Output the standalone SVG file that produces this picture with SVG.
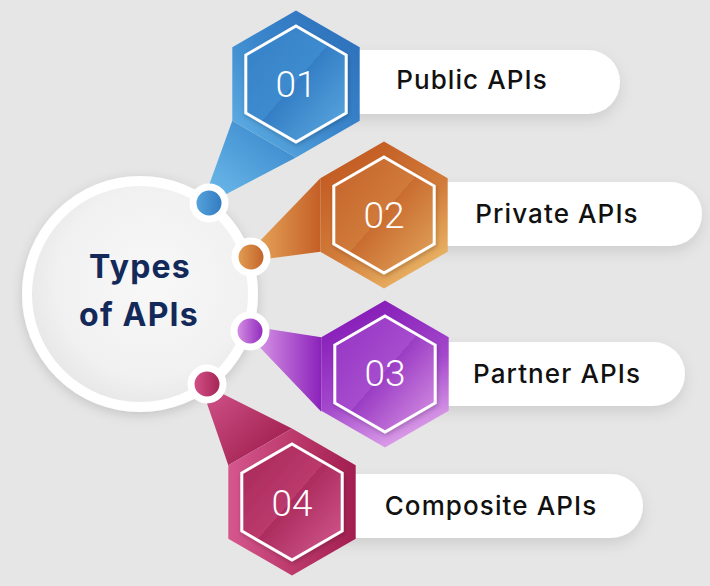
<svg xmlns="http://www.w3.org/2000/svg" width="710" height="586" viewBox="0 0 710 586">
<style>
.label{font-family:Inter,"Open Sans","DejaVu Sans",sans-serif;font-weight:500;font-size:26px;fill:#111111;text-anchor:middle;letter-spacing:1.1px}
.num{font-family:Roboto,"Liberation Sans",sans-serif;font-weight:300;font-size:37px;fill:#ffffff;text-anchor:middle}
.title{font-family:Inter,"Liberation Sans",sans-serif;font-weight:700;font-size:32px;fill:#13295a;text-anchor:middle;letter-spacing:1.2px}
.inner{stroke:#ffffff;stroke-width:3}
.pill{fill:#ffffff}
</style>
<defs>
<polygon id="hexO" points="0,-73.5 63.7,-36.75 63.7,36.75 0,73.5 -63.7,36.75 -63.7,-36.75"/>
<polygon id="hexI" points="0,-58 50.2,-29 50.2,29 0,58 -50.2,29 -50.2,-29"/>
<filter id="sh" x="-20%" y="-30%" width="140%" height="170%"><feDropShadow dx="0" dy="6" stdDeviation="7" flood-color="#000" flood-opacity="0.10"/></filter>
<filter id="shc" x="-20%" y="-20%" width="140%" height="140%"><feDropShadow dx="0" dy="3" stdDeviation="6" flood-color="#000" flood-opacity="0.15"/></filter>
<filter id="shi" x="-20%" y="-20%" width="140%" height="140%"><feDropShadow dx="1" dy="2" stdDeviation="2" flood-color="#000" flood-opacity="0.2"/></filter>
<radialGradient id="circ" cx="0.55" cy="0.45" r="0.6"><stop offset="0" stop-color="#f8f8f8"/><stop offset="0.7" stop-color="#f1f1f1"/><stop offset="1" stop-color="#e4e4e4"/></radialGradient>
<linearGradient id="bO" x1="1" y1="0" x2="0" y2="1"><stop offset="0" stop-color="#2a6cb7"/><stop offset="0.5" stop-color="#3a86cc"/><stop offset="1" stop-color="#64b4e6"/></linearGradient>
<linearGradient id="bI" x1="0" y1="0" x2="1" y2="1"><stop offset="0" stop-color="#3680c6"/><stop offset="0.49" stop-color="#3d8bcf"/><stop offset="0.49" stop-color="#347ec5"/><stop offset="1" stop-color="#5eabe1"/></linearGradient>
<linearGradient id="bF" gradientUnits="userSpaceOnUse" x1="212" y1="200" x2="270" y2="125"><stop offset="0" stop-color="#6cbae9"/><stop offset="1" stop-color="#3d8bce"/></linearGradient>
<linearGradient id="bD" x1="0" y1="0" x2="1" y2="0"><stop offset="0" stop-color="#5aa8de"/><stop offset="1" stop-color="#2e76bf"/></linearGradient>
<linearGradient id="oO" x1="0.2" y1="0" x2="0.8" y2="1"><stop offset="0" stop-color="#c0561f"/><stop offset="0.55" stop-color="#d27c3a"/><stop offset="1" stop-color="#edbd6c"/></linearGradient>
<linearGradient id="oI" x1="0" y1="0" x2="1" y2="1"><stop offset="0" stop-color="#c4622a"/><stop offset="0.49" stop-color="#d07a3a"/><stop offset="0.49" stop-color="#c96c30"/><stop offset="1" stop-color="#e3a85e"/></linearGradient>
<linearGradient id="oF" gradientUnits="userSpaceOnUse" x1="255" y1="0" x2="320" y2="0"><stop offset="0" stop-color="#e6a65a"/><stop offset="1" stop-color="#c45f27"/></linearGradient>
<linearGradient id="oD" x1="0" y1="0" x2="1" y2="0"><stop offset="0" stop-color="#e6a458"/><stop offset="1" stop-color="#bf5d26"/></linearGradient>
<linearGradient id="pO" x1="0.3" y1="0" x2="0.7" y2="1"><stop offset="0" stop-color="#8318b6"/><stop offset="0.55" stop-color="#a448cc"/><stop offset="1" stop-color="#e3aaec"/></linearGradient>
<linearGradient id="pI" x1="0" y1="0" x2="1" y2="1"><stop offset="0" stop-color="#9432c2"/><stop offset="0.49" stop-color="#a64cce"/><stop offset="0.49" stop-color="#9a3cc4"/><stop offset="1" stop-color="#dc98e6"/></linearGradient>
<linearGradient id="pF" gradientUnits="userSpaceOnUse" x1="255" y1="0" x2="322" y2="0"><stop offset="0" stop-color="#da98e6"/><stop offset="1" stop-color="#8a20ba"/></linearGradient>
<linearGradient id="pD" x1="0" y1="0" x2="1" y2="0"><stop offset="0" stop-color="#dc9ae8"/><stop offset="1" stop-color="#8a1fb9"/></linearGradient>
<linearGradient id="kO" x1="0" y1="0.5" x2="1" y2="0.5"><stop offset="0" stop-color="#d4578e"/><stop offset="0.5" stop-color="#bd3a6c"/><stop offset="1" stop-color="#a21e50"/></linearGradient>
<linearGradient id="kI" x1="0" y1="0" x2="1" y2="1"><stop offset="0" stop-color="#a62658"/><stop offset="0.49" stop-color="#bb3a6c"/><stop offset="0.49" stop-color="#ac2c5e"/><stop offset="1" stop-color="#d55c92"/></linearGradient>
<linearGradient id="kF" gradientUnits="userSpaceOnUse" x1="205" y1="390" x2="260" y2="450"><stop offset="0" stop-color="#cf5288"/><stop offset="1" stop-color="#a82758"/></linearGradient>
<linearGradient id="kD" x1="0" y1="0" x2="1" y2="0"><stop offset="0" stop-color="#d8558e"/><stop offset="1" stop-color="#a0204f"/></linearGradient>
</defs>

<rect x="0" y="0" width="710" height="586" fill="#e6e6e6"/>

<g id="pills">
<rect class="pill" x="296" y="50" width="324" height="64" rx="32" filter="url(#sh)"/>
<rect class="pill" x="384" y="182" width="318" height="64" rx="32" filter="url(#sh)"/>
<rect class="pill" x="385" y="342" width="300" height="64" rx="32" filter="url(#sh)"/>
<rect class="pill" x="292" y="474" width="351" height="64" rx="32" filter="url(#sh)"/>
</g>

<g id="center">
<circle cx="140" cy="294" r="113" fill="url(#circ)" stroke="#ffffff" stroke-width="10" filter="url(#shc)"/>
<text class="title" x="140" y="278">Types</text>
<text class="title" x="139" y="326">of APIs</text>
</g>

<g id="connectors">
<polygon points="204,199 215,200 296,157.5 232.3,120.75" fill="url(#bF)"/>
<polygon points="251,250 251,261 320.3,251.75 320.3,178.25" fill="url(#oF)"/>
<polygon points="250,326 250,337 321.3,411.75 321.3,337.25" fill="url(#pF)"/>
<polygon points="202,389 213,389 292,428.5 228.3,465.25" fill="url(#kF)"/>
</g>

<g id="node1">
<g transform="translate(296,84)">
<use href="#hexO" fill="url(#bO)"/>
<use href="#hexI" class="inner" fill="url(#bI)" filter="url(#shi)"/>
<text class="num" x="0" y="13">01</text>
</g>
<circle cx="209" cy="203" r="16" fill="url(#bD)" stroke="#ffffff" stroke-width="7"/>
<text class="label" x="472" y="89">Public APIs</text>
</g>

<g id="node2">
<g transform="translate(384,215)">
<use href="#hexO" fill="url(#oO)"/>
<use href="#hexI" class="inner" fill="url(#oI)" filter="url(#shi)"/>
<text class="num" x="0" y="13">02</text>
</g>
<circle cx="251" cy="257" r="16" fill="url(#oD)" stroke="#ffffff" stroke-width="7"/>
<text class="label" x="557" y="223">Private APIs</text>
</g>

<g id="node3">
<g transform="translate(385,374)">
<use href="#hexO" fill="url(#pO)"/>
<use href="#hexI" class="inner" fill="url(#pI)" filter="url(#shi)"/>
<text class="num" x="0" y="12">03</text>
</g>
<circle cx="250" cy="331" r="16" fill="url(#pD)" stroke="#ffffff" stroke-width="7"/>
<text class="label" x="557" y="383">Partner APIs</text>
</g>

<g id="node4">
<g transform="translate(292,502)">
<use href="#hexO" fill="url(#kO)"/>
<use href="#hexI" class="inner" fill="url(#kI)" filter="url(#shi)"/>
<text class="num" x="0" y="14">04</text>
</g>
<circle cx="207" cy="384" r="16" fill="url(#kD)" stroke="#ffffff" stroke-width="7"/>
<text class="label" x="491" y="515">Composite APIs</text>
</g>
</svg>
